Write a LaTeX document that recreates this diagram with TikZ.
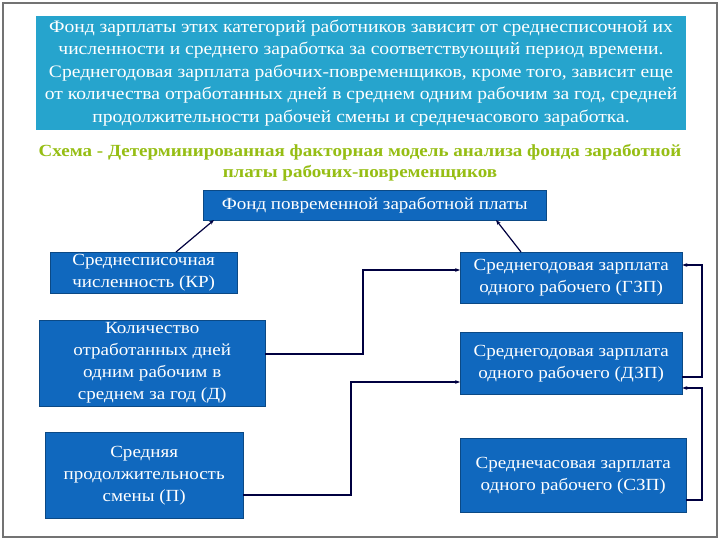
\documentclass[tikz,border=0pt]{standalone}
\usepackage{fontspec}
\setmainfont{Liberation Serif}[FakeStretch=1.12]
\usetikzlibrary{arrows.meta}
\definecolor{bx}{RGB}{16,104,190}
\definecolor{tb}{RGB}{38,164,205}
\definecolor{tt}{RGB}{150,190,20}
\tikzset{
 box/.style={fill=bx,draw=bx!70!black,text=white,align=center,font=\fontsize{17}{22}\selectfont,inner sep=2pt},
 ln/.style={draw=black!75!blue,line width=1.2pt},
 ar/.style={ln,-{Stealth[length=5pt]}}
}
\begin{document}
\begin{tikzpicture}[x=1pt,y=-1pt]
\useasboundingbox (0,0) rectangle (720,540);
\fill[white] (0,0) rectangle (720,540);
\draw[black!55,line width=1.5pt] (3,3) rectangle (717,537);
\node[fill=tb,draw=white,line width=2pt,minimum width=652,minimum height=116,align=center,text=white,font=\fontsize{17.5}{22.5}\selectfont,inner sep=0pt] (top) at (361,73) {Фонд зарплаты этих категорий работников зависит от среднесписочной их\\численности и среднего заработка за соответствующий период времени.\\Среднегодовая зарплата рабочих-повременщиков, кроме того, зависит еще\\от количества отработанных дней в среднем одним рабочим за год, средней\\продолжительности рабочей смены и среднечасового заработка.};
\node[text=tt,font=\bfseries\fontsize{17}{21}\selectfont,align=center] (title) at (360,163) {Схема - Детерминированная факторная модель анализа фонда заработной\\платы рабочих-повременщиков};
\node[box,minimum width=343,minimum height=30,anchor=north west] (f) at (203,190) {Фонд повременной заработной платы};
\node[box,minimum width=187,minimum height=41,anchor=north west] (kr) at (50,252) {Среднесписочная\\численность (КР)};
\node[box,minimum width=226,minimum height=86,anchor=north west] (d) at (39,320) {Количество\\отработанных дней\\одним рабочим в\\среднем за год (Д)};
\node[box,minimum width=198,minimum height=86,anchor=north west] (p) at (45,432) {Средняя\\продолжительность\\смены (П)};
\node[box,minimum width=222,minimum height=51,anchor=north west] (g) at (460,252) {Среднегодовая зарплата\\одного рабочего (ГЗП)};
\node[box,minimum width=222,minimum height=62,anchor=north west] (dz) at (460,332) {Среднегодовая зарплата\\одного рабочего (ДЗП)};
\node[box,minimum width=226,minimum height=74,anchor=north west] (s) at (460,438) {Среднечасовая зарплата\\одного рабочего (СЗП)};
\draw[ar] (176,252) -- (214,220);
\draw[ar] (521,252) -- (496,220);
\draw[ar] (d.east |- 0,354) -- (363,354) -- (363,270) -- (g.west |- 0,270);
\draw[ar] (p.east |- 0,495) -- (351,495) -- (351,382) -- (dz.west |- 0,382);
\draw[ar] (dz.east |- 0,377) -- (702,377) -- (702,265) -- (g.east |- 0,265);
\draw[ar] (s.east |- 0,500) -- (702,500) -- (702,388) -- (dz.east |- 0,388);
\end{tikzpicture}
\end{document}
